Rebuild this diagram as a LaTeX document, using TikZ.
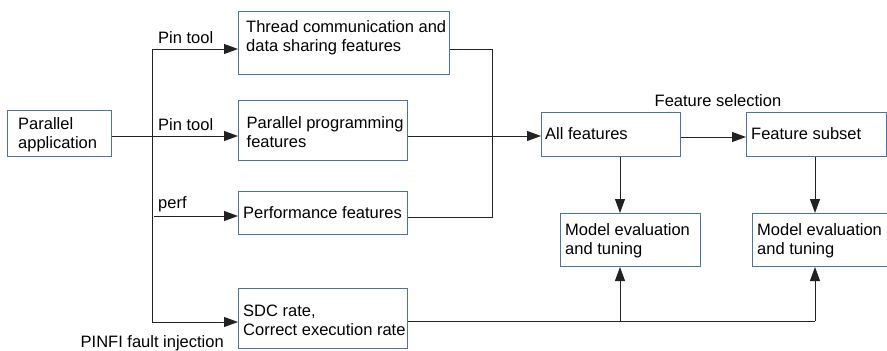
\documentclass[tikz,border=0pt]{standalone}
\usepackage{fontspec}
\setmainfont{Liberation Sans}
\usetikzlibrary{arrows.meta}
\definecolor{boxblue}{HTML}{4A72B2}
\definecolor{linegray}{HTML}{222222}
\tikzset{
  box/.style={draw=boxblue, line width=1pt, inner sep=0pt, anchor=north west},
  txt/.style={inner sep=0pt, anchor=west, align=left, font=\fontsize{16.5}{19}\selectfont},
  conn/.style={draw=linegray, line width=1pt},
  arr/.style={conn, -{Triangle[length=14pt, width=10pt]}},
}
\begin{document}
\begin{tikzpicture}[x=1pt, y=-1pt]
\useasboundingbox (0,0) rectangle (887,351);

% boxes
\node[box, minimum width=104pt, minimum height=46pt] (app) at (6.5,110) {};
\node[box, minimum width=211pt, minimum height=63pt] (thread) at (238,10.5) {};
\node[box, minimum width=169pt, minimum height=60pt] (prog) at (238,100) {};
\node[box, minimum width=169pt, minimum height=43pt] (perf) at (238,191) {};
\node[box, minimum width=169pt, minimum height=60pt] (sdc) at (238,288) {};
\node[box, minimum width=139pt, minimum height=44pt] (all) at (541,112) {};
\node[box, minimum width=140pt, minimum height=44pt] (subset) at (746,112) {};
\node[box, minimum width=140pt, minimum height=53pt] (eval1) at (560,213) {};
\node[box, minimum width=140pt, minimum height=53pt] (eval2) at (752,213) {};

% box texts
\node[txt] (appt) at (18,135) {Parallel\\application};
\node[txt] (threadt) at (246,37.5) {Thread communication and\\data sharing features};
\node[txt] (progt) at (246.5,132) {Parallel programming\\features};
\node[txt] (perft) at (243,213) {Performance features};
\node[txt] (sdct) at (243,320) {SDC rate,\\Correct execution rate};
\node[txt] (allt) at (545,134) {All features};
\node[txt] (subsett) at (751,134) {Feature subset};
\node[txt] (eval1t) at (565,241) {Model evaluation\\and tuning};
\node[txt] (eval2t) at (757,241) {Model evaluation\\and tuning};

% edge labels
\node[txt] (pin1) at (158,38) {Pin tool};
\node[txt] (pin2) at (158,125) {Pin tool};
\node[txt] (perfl) at (158,204) {perf};
\node[txt] (pinfi) at (80.5,343) {PINFI fault injection};
\node[txt, anchor=center] (fsel) at (718,101) {Feature selection};

% fan-out from the application
\coordinate (splitT) at (152,49);
\coordinate (splitP) at (154,216);
\coordinate (splitB) at (152,322);
\draw[conn] (splitT) -- (splitB);
\draw[arr] (splitT) -- (thread.west |- splitT);
\draw[arr] (app.east |- 0,136) -- (prog.west |- 0,136);
\draw[arr] (splitP) -- (perf.west |- splitP);
\draw[arr] (splitB) -- (sdc.west |- splitB);

% merge into all features
\coordinate (mergeT) at (492,49);
\coordinate (mergeB) at (492,217);
\draw[conn] (thread.east |- mergeT) -- (mergeT) -- (mergeB) -- (perf.east |- mergeB);
\draw[arr] (prog.east |- 0,136) -- (all.west |- 0,136);

% feature selection and evaluation
\draw[arr] (all.east |- 0,137) -- (subset.west |- 0,137);
\draw[arr] (all.south -| 620,0) -- (eval1.north -| 620,0);
\draw[arr] (subset.south -| 815,0) -- (eval2.north -| 815,0);

% fault injection results to both evaluations
\coordinate (j1) at (620,321);
\coordinate (j2) at (815,321);
\draw[conn] (sdc.east |- j1) -- (j2);
\draw[arr] (j1) -- (eval1.south -| j1);
\draw[arr] (j2) -- (eval2.south -| j2);
\end{tikzpicture}
\end{document}
